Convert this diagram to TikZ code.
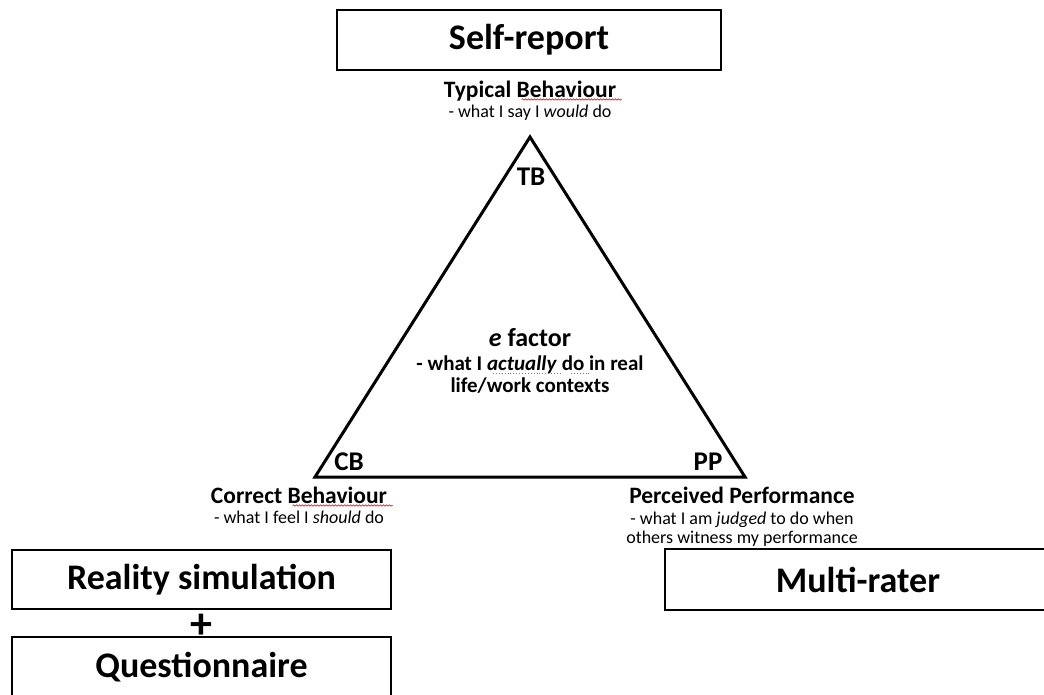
\documentclass[tikz,border=0pt]{standalone}
\usepackage{fontspec}
\setmainfont{Carlito}
\usetikzlibrary{decorations.pathmorphing}
\begin{document}
\begin{tikzpicture}[x=1pt, y=-1pt,
    meas/.style={rectangle, draw, line width=2pt, minimum width=379pt,
                 minimum height=59pt, font=\bfseries\fontsize{36}{43}\selectfont},
    lbl/.style={anchor=base, font=\bfseries\fontsize{23.5}{28}\selectfont},
    note/.style={anchor=base, font=\fontsize{18}{21}\selectfont},
    vtx/.style={anchor=base, font=\bfseries\fontsize{27}{32}\selectfont},
    core/.style={anchor=base, font=\bfseries\fontsize{21}{25}\selectfont},
    spell/.style={red!85!black, line width=0.6pt, decorate,
                  decoration={snake, amplitude=0.7pt, segment length=3pt}},
    gram/.style={orange!80!black, line width=0.9pt, dotted}
]
    \useasboundingbox (0,0) rectangle (1044,694);
    \clip (0,0) rectangle (1044,694);

    % measurement methods
    \node[meas, minimum width=384pt, minimum height=60pt] (self) at (529,40) {Self-report};
    \node[meas] (sim) at (201.5,579.5) {Reality simulation};
    \node[meas, minimum height=60pt] (quest) at (201.5,667) {Questionnaire};
    \node[meas, draw=none, minimum width=384pt] (multi) at (858,579.5) {Multi-rater};
    \draw[line width=2pt] ([xshift=20pt]multi.north east) -- (multi.north west)
        -- (multi.south west) -- ([xshift=20pt]multi.south east);
    \node[font=\bfseries\fontsize{44}{50}\selectfont] (plus) at (201,626) {+};

    % the triangle
    \coordinate (tb) at (530,137);
    \coordinate (cb) at (315,477);
    \coordinate (pp) at (745,477);
    \draw[line width=3pt, line join=miter] (tb) -- (pp) -- (cb) -- cycle;
    \node[vtx] (tbl) at (531,185) {TB};
    \node[vtx] (cbl) at (349,470) {CB};
    \node[vtx] (ppl) at (708,470) {PP};

    \node[core, font=\bfseries\fontsize{26}{31}\selectfont] (ef) at (530,346) {\textit{e} factor};
    \node[core] (ef1) at (530,370) {- what I \textit{actually} do in real};
    \node[core] (ef2) at (530,392) {life/work contexts};
    \draw[gram] ([xshift=-154pt, yshift=-3pt]ef1.base east) -- ([xshift=-86pt, yshift=-3pt]ef1.base east);
    \draw[gram] ([xshift=-76pt, yshift=-3pt]ef1.base east) -- ([xshift=-58pt, yshift=-3pt]ef1.base east);

    % corner texts
    \node[lbl] (typ) at (530,97) {Typical Behaviour};
    \node[note] (typn) at (530,117) {- what I say I \textit{would} do};
    \node[lbl] (cor) at (299,503) {Correct Behaviour};
    \node[note] (corn) at (299,523) {- what I feel I \textit{should} do};
    \node[lbl] (per) at (742,503) {Perceived Performance};
    \node[note] (pern1) at (742,524) {- what I am \textit{judged} to do when};
    \node[note] (pern2) at (742,543) {others witness my performance};
    \draw[spell] ([xshift=-98pt, yshift=-2.5pt]typ.base east) -- ([xshift=2pt, yshift=-2.5pt]typ.base east);
    \draw[spell] ([xshift=-98pt, yshift=-2.5pt]cor.base east) -- ([xshift=2pt, yshift=-2.5pt]cor.base east);
\end{tikzpicture}
\end{document}
